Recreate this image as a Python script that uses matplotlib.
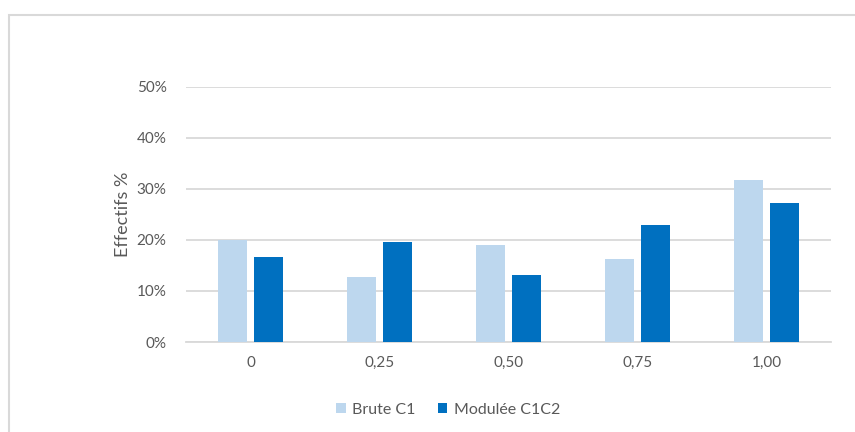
import matplotlib.pyplot as plt
from matplotlib.patches import Rectangle
from matplotlib.ticker import FuncFormatter
import numpy as np

plt.rcParams['font.family'] = ['Lato', 'DejaVu Sans']

# Données
categories = ["0", "0,25", "0,50", "0,75", "1,00"]
brute_c1 = [20.0, 12.7, 19.0, 16.3, 31.8]
modulee_c1c2 = [16.7, 19.6, 13.1, 22.9, 27.3]
series_labels = ["Brute C1", "Modulée C1C2"]

light_blue = "#bdd7ee"
dark_blue = "#0070c0"
text_gray = "#595959"
grid_gray = "#d9d9d9"

fig = plt.figure(figsize=(8.55, 4.32), dpi=100)
ax = fig.add_axes([186 / 855, 1 - 342 / 432, 645 / 855, 255 / 432 * 1.0])

x = np.arange(len(categories))
w = 0.225
ax.bar(x - 0.14, brute_c1, width=w, color=light_blue, label=series_labels[0], zorder=3)
ax.bar(x + 0.14, modulee_c1c2, width=w, color=dark_blue, label=series_labels[1], zorder=3)

ax.set_xlim(-0.5, len(categories) - 0.5)
ax.set_ylim(0, 50)
ax.set_yticks(range(0, 51, 10))
ax.yaxis.set_major_formatter(FuncFormatter(lambda v, p: f"{int(v)}%"))
ax.set_xticks(x)
ax.set_xticklabels(categories)

ax.grid(axis='y', color=grid_gray, linewidth=1.3, zorder=0)
for s in ["top", "right", "left"]:
    ax.spines[s].set_visible(False)
ax.spines["bottom"].set_color(grid_gray)
ax.spines["bottom"].set_linewidth(1.3)
ax.tick_params(axis='both', length=0, labelsize=11, labelcolor=text_gray)
ax.tick_params(axis='y', pad=14)
ax.tick_params(axis='x', pad=10)

ax.set_ylabel("Effectifs %", fontsize=13, color=text_gray, labelpad=4)

leg = fig.legend(loc='center', bbox_to_anchor=(448 / 855, 1 - 410 / 432), ncol=2,
                 frameon=False, fontsize=11.5, handlelength=0.6, handleheight=0.6,
                 columnspacing=1.4, handletextpad=0.4)
for t in leg.get_texts():
    t.set_color(text_gray)

# cadre du graphique
fig.patches.append(Rectangle((9 / 855, -0.1), 1.2, 1 - 15 / 432 + 0.1,
                             transform=fig.transFigure, fill=False,
                             edgecolor=grid_gray, linewidth=1.5))

fig.savefig("out.png", dpi=100)
